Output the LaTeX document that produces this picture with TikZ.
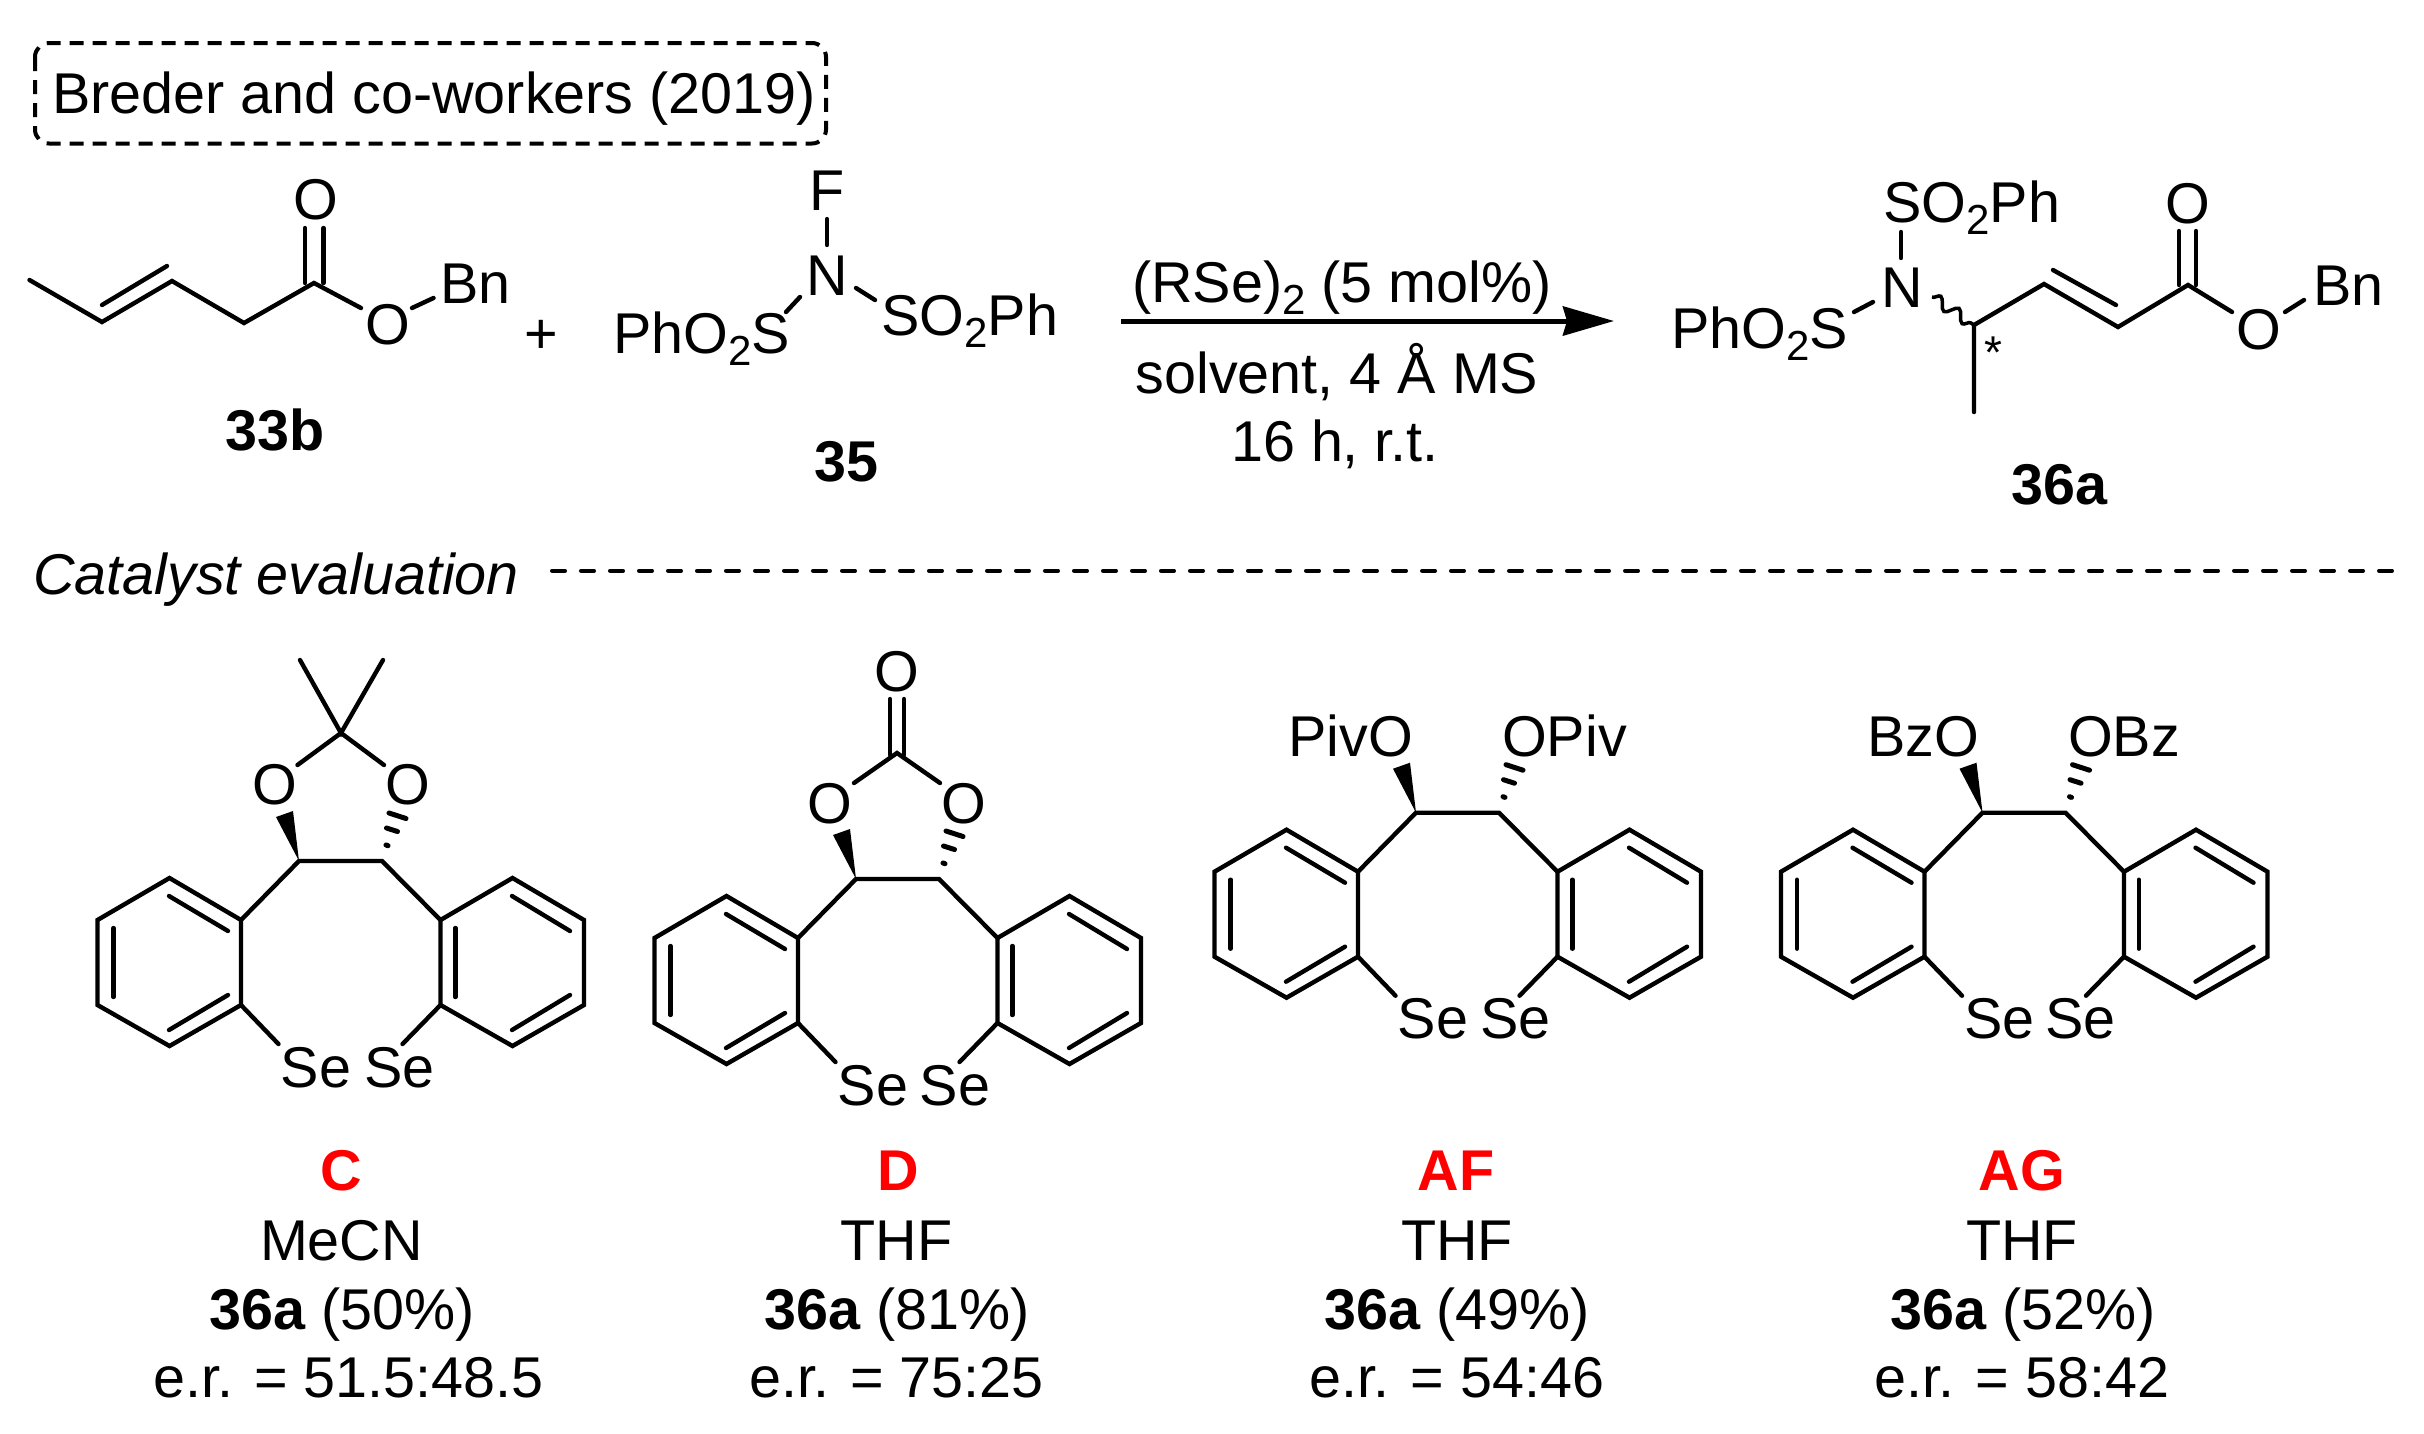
\documentclass[tikz,border=0pt]{standalone}
\usepackage{fontspec}
\setmainfont{Liberation Sans}
\usetikzlibrary{arrows.meta,decorations.pathmorphing}
\newcommand{\subtwo}{\raisebox{-12pt}{\fontsize{42}{42}\selectfont 2}}
\tikzset{
  x=1pt,y=-1pt,
  bond/.style={line width=4.4pt,line cap=round,line join=miter},
  atom/.style={inner sep=0pt,anchor=base,font=\fontsize{57.5}{60}\selectfont},
  atomw/.style={atom,anchor=base west},
  num/.style={atom,font=\fontsize{57.5}{60}\selectfont\bfseries},
  redlab/.style={num,text=catred},
  dashbox/.style={line width=4pt,dash pattern=on 14pt off 9pt,rounded corners=14pt},
  sepline/.style={line width=4pt,line cap=round,dash pattern=on 13pt off 16pt},
  wedge/.style={fill=black,draw=none},
  hash/.style={line width=5pt,line cap=round},
}
\definecolor{catred}{RGB}{255,0,0}
% selenium-bridged core: prefix, x, y of the CH-CH midpoint, x of second Se
\newcommand{\selcore}[4]{%
\begin{scope}[shift={(#2,#3)}]
  \coordinate (#1cl) at (-41.5,0);
  \coordinate (#1cr) at (41.5,0);
  \coordinate (#1a1) at (-99.5,59);
  \coordinate (#1a2) at (-99.5,144);
  \coordinate (#1a3) at (-171,185);
  \coordinate (#1a4) at (-243,144);
  \coordinate (#1a5) at (-243,59);
  \coordinate (#1a6) at (-171,17);
  \coordinate (#1b1) at (100,59);
  \coordinate (#1b2) at (100,144);
  \coordinate (#1b3) at (172,185);
  \coordinate (#1b4) at (243.5,144);
  \coordinate (#1b5) at (243.5,59);
  \coordinate (#1b6) at (172,17);
  \coordinate (#1sl) at (-62,183);
  \coordinate (#1sr) at (62,183);
  \draw[bond] (#1a1)--(#1a2)--(#1a3)--(#1a4)--(#1a5)--(#1a6)--cycle;
  \draw[bond] (#1b1)--(#1b2)--(#1b3)--(#1b4)--(#1b5)--(#1b6)--cycle;
  \draw[bond] (#1a1)--(#1cl)--(#1cr)--(#1b1);
  \draw[bond] (#1a2)--(#1sl);
  \draw[bond] (#1b2)--(#1sr);
  \draw[bond] (-171.5,35)--(-112.5,70);
  \draw[bond] (-227,67)--(-227,136);
  \draw[bond] (-112.5,134)--(-171.5,169);
  \draw[bond] (114.8,67)--(114.8,136);
  \draw[bond] (171.5,35)--(229.5,70);
  \draw[bond] (229.5,134)--(171.5,169);
  \fill[wedge] (#1cl)--(-64.5,-44)--(-47.5,-50)--cycle;
  \draw[hash] (45.5,-16)--(47.5,-15.3);
  \draw[hash] (46,-33)--(57,-29.5);
  \draw[hash] (48.5,-48)--(65.5,-42.5);
  \node[atom] (#1se1) at (-24.5,226) {Se};
  \node[atom] (#1se2) at (#4,226) {Se};
\end{scope}}
\begin{document}
\begin{tikzpicture}
\useasboundingbox (0,0) rectangle (2424,1433);

% title box
\node[atomw] (title) at (52,113) {Breder and co-workers (2019)};
\draw[dashbox] (35,43) rectangle (826,143.5);

% 33b
\coordinate (m1) at (29.5,280);
\coordinate (m2) at (102,322);
\coordinate (m3) at (172,281);
\coordinate (m4) at (244,323);
\coordinate (m5) at (314,283);
\coordinate (m5e) at (361,308);
\draw[bond] (m1)--(m2)--(m3)--(m4)--(m5)--(m5e);
\draw[bond] (102,305)--(167,266);
\draw[bond] (305,283)--(305,228);
\draw[bond] (323.5,283)--(323.5,228);
\node[atom] (oa) at (316,219) {O};
\node[atom] (ob) at (388,344) {O};
\draw[bond] (412,308)--(433.5,298);
\node[atomw] (bna) at (440,303) {Bn};
\node[num] (l33b) at (275.5,450) {33b};
\node[atom] (plus) at (541,353) {+};

% 35
\node[atom] (nf) at (827,295) {N};
\node[atom] (ff) at (827,210) {F};
\coordinate (ffa) at (827,219);
\coordinate (ffb) at (827,245);
\draw[bond] (ffa)--(ffb);
\node[atomw] (sl) at (613,353) {PhO\subtwo S};
\node[atomw] (sr) at (881,335) {SO\subtwo Ph};
\draw[bond] (786,312)--(800,297);
\draw[bond] (856,288)--(875,300);
\node[num] (l35) at (846,481) {35};

% arrow and conditions
\coordinate (ars) at (1121,321);
\coordinate (are) at (1614,321);
\draw[line width=5pt,-{Stealth[length=51pt,width=29pt,inset=4pt]}] (ars)--(are);
\node[atom] (c1) at (1342,302) {(RSe)\subtwo{} (5 mol\%)};
\node[atom] (c2) at (1337,393) {solvent, 4 Å MS};
\node[atom] (c3) at (1335,461) {16 h, r.t.};

% 36a
\coordinate (p1) at (1974,325);
\coordinate (p2) at (2044,284);
\coordinate (p3) at (2118,327);
\coordinate (p4) at (2188,285);
\coordinate (p5) at (2232,312);
\coordinate (p6) at (1974,412);
\coordinate (wv) at (1932,297);
\draw[bond] (p6)--(p1)--(p2)--(p3)--(p4)--(p5);
\draw[bond] (2053,270)--(2116,305);
\draw[bond] (2179,285)--(2179,231);
\draw[bond] (2196,285)--(2196,231);
\draw[line width=3.5pt,decorate,decoration={snake,segment length=22pt,amplitude=5.5pt}] (wv)--(p1);
\node[atom] (oc) at (2188,223) {O};
\node[atom] (od) at (2259,349) {O};
\draw[bond] (2285,312)--(2304,300);
\node[atomw] (bnb) at (2313,305) {Bn};
\node[atom] (np) at (1902,307) {N};
\node[atomw] (spt) at (1883,222) {SO\subtwo Ph};
\draw[bond] (1901,232)--(1901,258);
\node[atomw] (spl) at (1671,348) {PhO\subtwo S};
\draw[bond] (1854,312)--(1873,302);
\node[atom,font=\fontsize{46}{48}\selectfont] (star) at (1993,368) {*};
\node[num] (l36a) at (2059,504) {36a};

% separator
\node[atomw,font=\fontsize{57.5}{60}\selectfont\itshape] (cateval) at (33,594) {Catalyst evaluation};
\coordinate (sa) at (552,570.7);
\coordinate (sb) at (2393,570.7);
\draw[sepline] (sa)--(sb);

% catalyst C
\selcore{cc}{340.5}{861}{59}
\begin{scope}[shift={(340.5,861)}]
  \coordinate (cck) at (0.5,-128);
  \coordinate (ccm1) at (-40.5,-201);
  \coordinate (ccm2) at (42.5,-201);
  \draw[bond] (ccm1)--(cck)--(ccm2);
  \draw[bond] (-43,-96)--(cck)--(43.5,-96);
  \node[atom] (cco1) at (-66,-57) {O};
  \node[atom] (cco2) at (67.5,-57) {O};
\end{scope}

% catalyst D
\selcore{dd}{897.5}{879}{57.5}
\begin{scope}[shift={(897.5,879)}]
  \coordinate (ddk) at (-0.5,-126);
  \draw[bond] (-43.5,-96)--(ddk)--(42.5,-96);
  \draw[bond] (-7.5,-124)--(-7.5,-180);
  \draw[bond] (6.5,-124)--(6.5,-180);
  \node[atom] (ddo1) at (-68,-56) {O};
  \node[atom] (ddo2) at (66,-56) {O};
  \node[atom] (ddo3) at (-0.5,-188) {O};
\end{scope}

% catalyst AF
\selcore{af}{1457.5}{812.7}{58}
\node[atom,anchor=base east] (afo1) at (1413,756.7) {PivO};
\node[atomw] (afo2) at (1502,756.7) {OPiv};

% catalyst AG
\selcore{ag}{2024}{812.7}{56.5}
\node[atom,anchor=base east] (ago1) at (1979,756.7) {BzO};
\node[atomw] (ago2) at (2068,756.7) {OBz};

% captions
\node[redlab] (capc) at (341,1190) {C};
\node[atom] (sc) at (341.5,1260) {MeCN};
\node[atom] (yc) at (342,1329) {\textbf{36a} (50\%)};
\node[atom] (ec) at (348.5,1397) {e.r. = 51.5:48.5};

\node[redlab] (capd) at (898,1190) {D};
\node[atom] (sd) at (896.5,1260) {THF};
\node[atom] (yd) at (897,1329) {\textbf{36a} (81\%)};
\node[atom] (ed) at (896.5,1397) {e.r. = 75:25};

\node[redlab] (capaf) at (1456,1190) {AF};
\node[atom] (saf) at (1457,1260) {THF};
\node[atom] (yaf) at (1457,1329) {\textbf{36a} (49\%)};
\node[atom] (eaf) at (1457,1397) {e.r. = 54:46};

\node[redlab] (capag) at (2022,1190) {AG};
\node[atom] (sag) at (2022,1260) {THF};
\node[atom] (yag) at (2023,1329) {\textbf{36a} (52\%)};
\node[atom] (eag) at (2022,1397) {e.r. = 58:42};
\end{tikzpicture}
\end{document}
